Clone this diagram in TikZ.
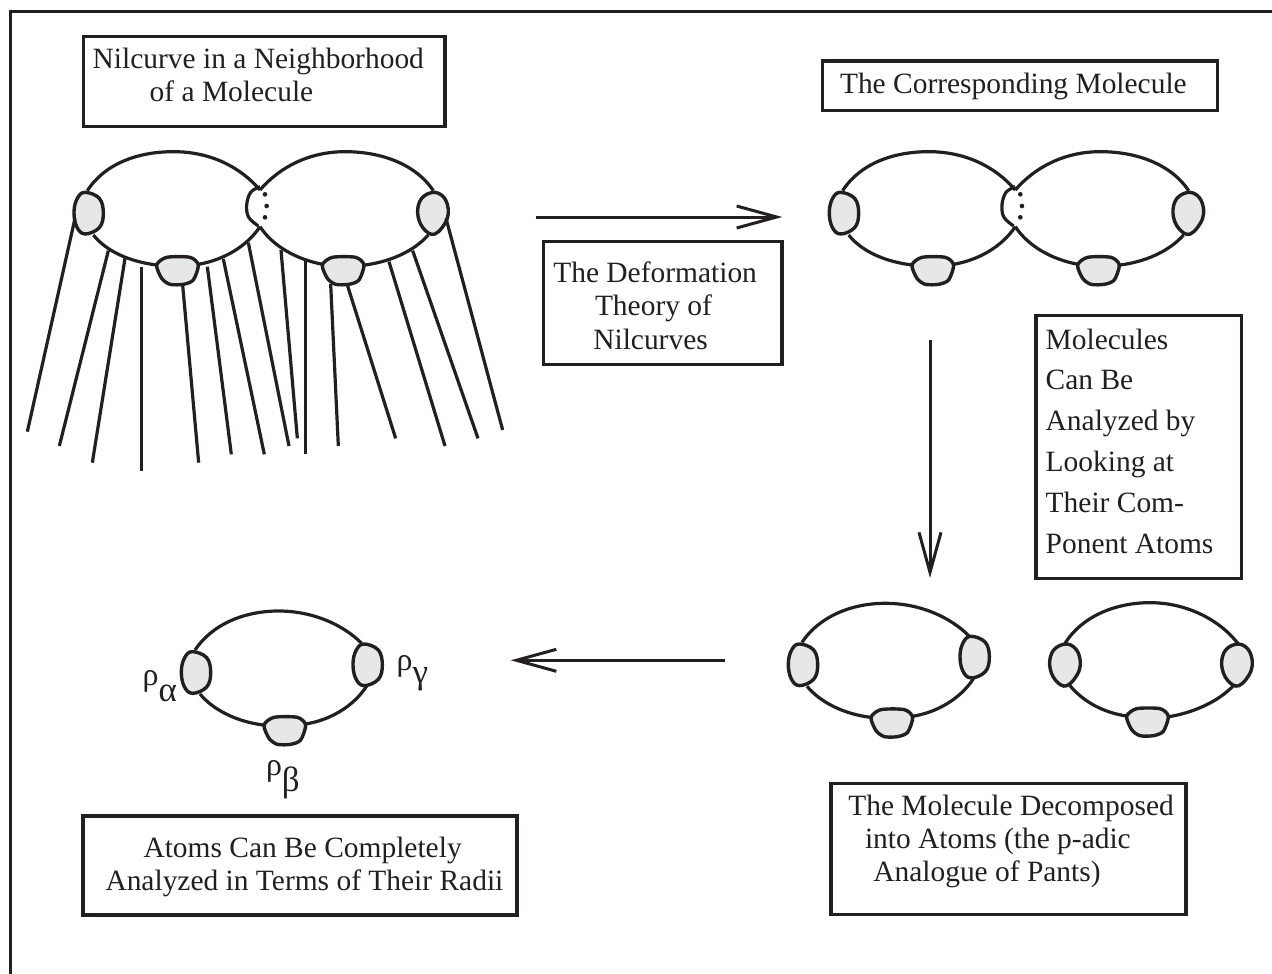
\documentclass[tikz,border=0pt]{standalone}
\usepackage{fontspec}
\setmainfont{Liberation Serif}
\usetikzlibrary{arrows.meta}
\definecolor{ink}{HTML}{231F20}
\definecolor{blobgray}{HTML}{E6E8E7}
\newcommand{\blobL}[2]{\draw[blobline,shift={(#1,#2)}] plot[smooth cycle,tension=0.65] coordinates {(-10,-63)(33,-45)(45,0)(33,43)(-10,62)(-35,40)(-43,-5)(-33,-45)};}
\newcommand{\blobR}[2]{\draw[blobline,shift={(#1,#2)}] plot[smooth cycle,tension=0.65] coordinates {(7,-63)(40,-38)(44,15)(7,62)(-28,45)(-45,0)(-33,-45)};}
\newcommand{\blobB}[2]{\draw[blobline,shift={(#1,#2)}] plot[smooth cycle,tension=0.45] coordinates {(-63,-18)(-33,-41)(37,-41)(62,-18)(47,27)(17,40)(-23,40)(-48,22)};}
\newcommand{\moleculeshape}{%
  \draw[curveline] (112,182) .. controls (165,100) and (265,65) .. (370,65) .. controls (480,65) and (570,110) .. (630,180);
  \draw[curveline] (630,180) .. controls (690,110) and (780,65) .. (885,65) .. controls (990,65) and (1095,100) .. (1150,182);
  \draw[curveline] (130,315) .. controls (170,365) and (240,395) .. (320,405);
  \draw[curveline] (445,403) .. controls (520,390) and (590,350) .. (630,290);
  \draw[curveline] (630,290) .. controls (670,350) and (740,388) .. (818,403);
  \draw[curveline] (945,405) .. controls (1020,395) and (1090,365) .. (1135,315);
  \draw[curveline] plot[smooth,tension=0.6] coordinates {(630,170)(602,187)(590,225)(596,262)(625,288)};
  \fill[ink] (645,193) circle (7) (650,228) circle (7) (645,262) circle (7);
  \blobL{115}{250}\blobR{1148}{250}\blobB{383}{423}\blobB{880}{423}%
}
\newcommand{\atomshape}{%
  \draw[curveline] (195,150) .. controls (245,75) and (340,33) .. (445,33) .. controls (550,33) and (640,75) .. (695,130);
  \draw[curveline] (210,282) .. controls (250,330) and (320,365) .. (400,375);
  \draw[curveline] (527,372) .. controls (600,360) and (670,320) .. (710,258);
  \blobL{197}{218}\blobL{712}{195}\blobB{465}{393}%
}
\newcommand{\tl}[2]{{\fontsize{29.45}{#1}\selectfont\begin{tabular}[t]{@{}l@{}}#2\end{tabular}}}
\tikzset{
  curveline/.style={draw=ink,line width=3.2pt},
  blobline/.style={draw=ink,fill=blobgray,line width=3.4pt},
  whisker/.style={draw=ink,line width=3.2pt},
  boxnode/.style={draw=ink,line width=3.3pt,rectangle,inner sep=0pt,outer sep=0pt},
  lbl/.style={anchor=base west,inner sep=0pt,outer sep=0pt,text=ink},
  greek/.style={anchor=base west,inner sep=0pt,outer sep=0pt,text=ink,font=\fontsize{32}{32}\selectfont},
  arrowline/.style={draw=ink,line width=3pt,-{Straight Barb[length=40pt,width=22pt,line width=3pt]}}
}
\newcommand{\subgr}[2]{\raisebox{#1}{\fontsize{35}{35}\selectfont #2}}
\begin{document}
\begin{tikzpicture}[x=1pt,y=-1pt]
\useasboundingbox (0,0) rectangle (1272,974);
\fill[white] (0,0) rectangle (1272,974);
% frame
\coordinate (fa) at (10,974);\coordinate (fb) at (10,12);\coordinate (fc) at (1272,12);
\draw[draw=ink,line width=3pt] (fa) -- (fb) -- (fc);
% boxes
\node[boxnode,minimum width=361.5pt,minimum height=90pt] (b1) at (264.2,81.7) {};
\node[boxnode,minimum width=394.6pt,minimum height=49.7pt] (b2) at (1020,85.8) {};
\node[boxnode,minimum width=238.7pt,minimum height=122.6pt] (b3) at (662.6,303) {};
\node[boxnode,minimum width=205.7pt,minimum height=262.6pt] (b4) at (1138.8,447) {};
\node[boxnode,minimum width=355pt,minimum height=131pt] (b5) at (1008.5,848.8) {};
\node[boxnode,minimum width=434pt,minimum height=99pt] (b6) at (300,865.5) {};
% texts
\node[lbl] (t1) at (92.7,69) {\tl{33}{Nilcurve in a Neighborhood\\\hspace*{57pt}of a Molecule}};
\node[lbl] (t2) at (840,93.3) {\tl{33}{The Corresponding Molecule}};
\node[lbl] (t3) at (553.3,282.7) {\tl{33.2}{The Deformation\\\hspace*{41.7pt}Theory of\\\hspace*{40pt}Nilcurves}};
\node[lbl] (t4) at (1045.7,349) {\tl{40.9}{Molecules\\Can Be\\Analyzed by\\Looking at\\Their Com-\\Ponent Atoms}};
\node[lbl] (t5) at (848.3,815.7) {\tl{32.7}{The Molecule Decomposed\\\hspace*{16.7pt}into Atoms (the p-adic\\\hspace*{25pt}Analogue of Pants)}};
\node[lbl] (t6) at (105.5,857) {\tl{33}{\hspace*{38pt}Atoms Can Be Completely\\Analyzed in Terms of Their Radii}};
% greek labels
\node[greek] (ra) at (142.7,685.7) {ρ\subgr{-16pt}{α}};
\node[greek] (rg) at (396.7,670) {ρ\subgr{-13pt}{γ}};
\node[greek] (rb) at (266,775.7) {ρ\subgr{-16pt}{β}};
% arrows
\coordinate (a1s) at (535.7,217);\coordinate (a1e) at (782.3,217);
\draw[arrowline] (a1s) -- (a1e);
\coordinate (a2s) at (930,340);\coordinate (a2e) at (930,578);
\draw[arrowline] (a2s) -- (a2e);
\coordinate (a3s) at (725,660.3);\coordinate (a3e) at (510.7,660.3);
\draw[arrowline] (a3s) -- (a3e);
% left molecule with whiskers
\begin{scope}[shift={(50,130)},scale=0.33333]
  \moleculeshape
  \draw[whisker] (75,265) -- (-68,905);
  \draw[whisker] (175,362) -- (28,948);
  \draw[whisker] (225,385) -- (127,998);
  \draw[whisker] (275,410) -- (275,1022);
  \draw[whisker] (398,465) -- (446,998);
  \draw[whisker] (472,410) -- (544,973);
  \draw[whisker] (520,387) -- (643,973);
  \draw[whisker] (595,338) -- (717,948);
  \draw[whisker] (693,360) -- (742,925);
  \draw[whisker] (767,392) -- (767,973);
  \draw[whisker] (842,462) -- (865,948);
  \draw[whisker] (893,468) -- (1037,925);
  \draw[whisker] (1017,395) -- (1185,948);
  \draw[whisker] (1088,362) -- (1284,925);
  \draw[whisker] (1188,265) -- (1358,900);
\end{scope}
% upper right molecule
\begin{scope}[shift={(805.3,130)},scale=0.33333]
  \moleculeshape
\end{scope}
% single atom
\begin{scope}[shift={(130,600)},scale=0.33333]
  \atomshape
\end{scope}
% decomposed atoms
\begin{scope}[shift={(737,592.3)},scale=0.33333]
  \atomshape
\end{scope}
\begin{scope}[shift={(770,590)},scale=0.33333]
  \draw[curveline] (885,160) .. controls (935,80) and (1035,38) .. (1140,38) .. controls (1250,38) and (1350,90) .. (1405,162);
  \draw[curveline] (900,287) .. controls (940,335) and (1000,368) .. (1070,378);
  \draw[curveline] (1197,380) .. controls (1270,368) and (1345,335) .. (1390,287);
  \blobR{884}{225}\blobR{1400}{225}\blobB{1133}{397}
\end{scope}
\end{tikzpicture}
\end{document}
